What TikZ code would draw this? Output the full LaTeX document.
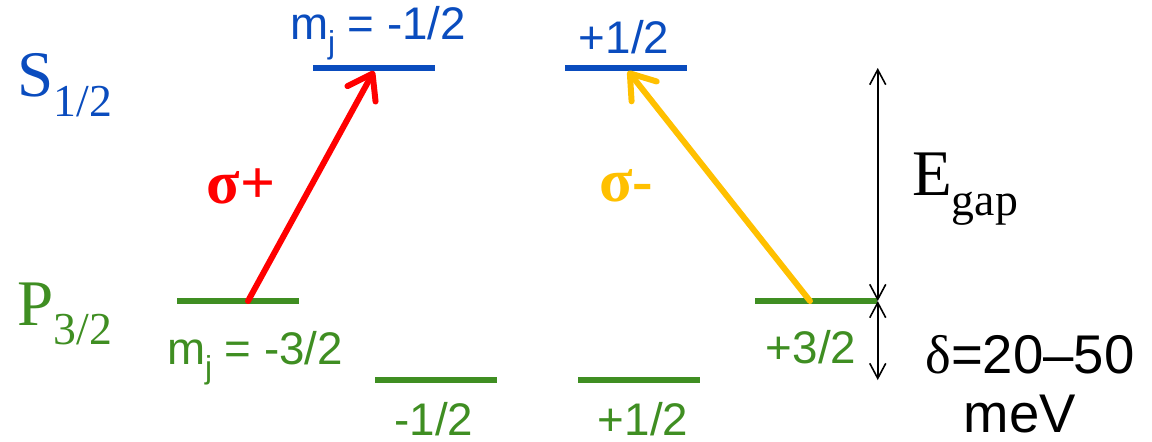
\documentclass[tikz,border=0pt]{standalone}
\usepackage{fontspec}
\setmainfont{Liberation Serif}
\setsansfont{Liberation Sans}
\usetikzlibrary{arrows.meta}
\definecolor{levelblue}{HTML}{0A4CBE}
\definecolor{levelgreen}{HTML}{3F8E22}
\definecolor{sigmared}{HTML}{FF0000}
\definecolor{sigmayellow}{HTML}{FFC000}
\newcommand{\termsym}[2]{#1\raisebox{-0.3em}{\fontsize{13}{14}\selectfont #2}}
\newcommand{\mjsym}{m\raisebox{-0.3em}{\fontsize{9}{10}\selectfont j}}
\tikzset{
  level/.style={rectangle,inner sep=0pt,minimum width=1.22cm,minimum height=0.065cm},
  s level/.style={level,fill=levelblue},
  p level/.style={level,fill=levelgreen},
  mlabel/.style={font=\sffamily\fontsize{13}{15}\selectfont,inner sep=0pt},
  term/.style={font=\fontsize{18.5}{20}\selectfont,inner sep=0pt},
  sigma label/.style={font=\bfseries\fontsize{17.5}{19}\selectfont,inner sep=0pt},
  value label/.style={font=\sffamily\fontsize{15.5}{17}\selectfont,inner sep=0pt},
  transition/.style={line width=1.7pt,line cap=round,
    -{Straight Barb[length=2.3mm,width=3.2mm,round]}},
  span arrow/.style={draw=black,line width=0.45pt,
    {Straight Barb[length=1.5mm,width=1.6mm]}-{Straight Barb[length=1.5mm,width=1.6mm]}}
}
\begin{document}
\begin{tikzpicture}[x=0.01cm,y=-0.01cm]
  \useasboundingbox (0,0) rectangle (1152,441);
  % levels
  \node[s level] (s1) at (374,68) {};
  \node[s level] (s2) at (626,68) {};
  \node[p level] (p1) at (238,301) {};
  \node[p level] (p2) at (436,380) {};
  \node[p level] (p3) at (639,380) {};
  \node[p level] (p4) at (816,301) {};
  % term symbols and m_j labels
  \node[term,text=levelblue] (sterm) at (65,85) {\termsym{S}{1/2}};
  \node[term,text=levelgreen] (pterm) at (65,314) {\termsym{P}{3/2}};
  \node[mlabel,text=levelblue] (s1lab) at (378,33) {\mjsym{} = -1/2};
  \node[mlabel,text=levelblue] (s2lab) at (624,37) {+1/2};
  \node[mlabel,text=levelgreen] (p1lab) at (255,358) {\mjsym{} = -3/2};
  \node[mlabel,text=levelgreen] (p2lab) at (434,419) {-1/2};
  \node[mlabel,text=levelgreen] (p3lab) at (643,419) {+1/2};
  \node[mlabel,text=levelgreen] (p4lab) at (811,347) {+3/2};
  % transitions
  \draw[transition,draw=sigmared] ([xshift=0.1cm]p1.center) -- ([yshift=-0.03cm]s1.center);
  \draw[transition,draw=sigmayellow] ([xshift=-0.06cm]p4.center) -- ([xshift=0.02cm,yshift=-0.03cm]s2.center);
  \node[sigma label,text=sigmared] (splus) at (241,186) {σ+};
  \node[sigma label,text=sigmayellow] (sminus) at (626,186) {σ-};
  % energy scales
  \coordinate (gtop) at (p4.east |- s2.center);
  \coordinate (gbot) at (p4.east |- p3.center);
  \draw[span arrow] (gtop) -- (p4.east);
  \draw[span arrow] (p4.east) -- (gbot);
  \node[term] (egap) at (965,189) {\termsym{E}{gap}};
  \node[value label] (delta) at (1030,355) {{\rmfamily δ}=20–50};
  \node[value label] (mev) at (1020,414) {meV};
\end{tikzpicture}
\end{document}
